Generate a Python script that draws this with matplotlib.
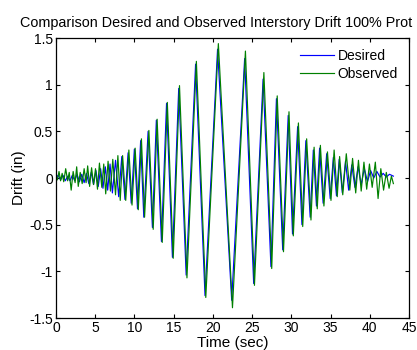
import matplotlib
matplotlib.use("Agg")
import matplotlib.pyplot as plt
from matplotlib.ticker import FixedLocator, FixedFormatter

plt.rcParams['font.family'] = ['Liberation Sans', 'DejaVu Sans']

# Desired drift: extrema (time in sec, drift in in)
desired_t = [0.0, 0.3, 0.6, 0.9, 1.2, 1.5, 1.8, 2.1, 2.4, 2.7, 3.0, 3.3, 3.6, 3.9,
             4.2, 4.5, 4.8, 5.1, 5.4, 5.7, 6.0, 6.3, 6.6, 6.9, 7.2, 7.6, 8.0, 8.4,
             8.8, 9.2, 9.6, 10.0, 10.4, 10.8, 11.2, 11.75, 12.3, 12.8, 13.45, 14.1,
             14.85, 15.65, 16.6, 17.8, 19.0, 20.6, 22.4, 24.05, 25.2, 26.4, 27.4,
             28.1, 28.9, 29.6, 30.15, 30.8, 31.35, 31.85, 32.4, 32.8, 33.2, 33.6,
             34.05, 34.5, 34.95, 35.35, 35.75, 36.1, 36.5, 36.9, 37.3, 37.7, 38.1,
             38.5, 38.9, 39.3, 39.7, 40.1, 40.5, 40.9, 41.3, 41.7, 42.1, 42.5, 43.0]
desired_v = [0.0, 0.03, -0.02, 0.03, -0.03, 0.02, -0.03, 0.03, -0.03, 0.04, -0.04,
             0.04, -0.05, 0.05, -0.06, 0.06, -0.07, 0.08, -0.09, 0.10, -0.11, 0.12,
             -0.13, 0.15, -0.16, 0.19, -0.20, 0.23, -0.23, 0.27, -0.27, 0.31, -0.33,
             0.40, -0.42, 0.50, -0.53, 0.62, -0.68, 0.80, -0.85, 0.96, -1.04, 1.22,
             -1.26, 1.38, -1.31, 1.28, -1.13, 1.06, -0.95, 0.85, -0.77, 0.67, -0.60,
             0.55, -0.50, 0.40, -0.42, 0.30, -0.30, 0.32, -0.27, 0.26, -0.22, 0.22,
             -0.19, 0.20, -0.16, 0.18, -0.13, 0.14, -0.10, 0.12, -0.07, 0.10, -0.04,
             0.08, 0.0, 0.07, 0.01, 0.05, 0.01, 0.04, 0.02]

# Observed drift: extrema
observed_t = [0.0, 0.2, 0.4, 0.6, 0.8, 1.0, 1.25, 1.5, 1.7, 1.95, 2.2, 2.45, 2.65,
              2.85, 3.1, 3.35, 3.6, 3.85, 4.05, 4.3, 4.55, 4.8, 5.05, 5.3, 5.55,
              5.85, 6.1, 6.35, 6.65, 6.95, 7.25, 7.6, 7.9, 8.2, 8.5, 8.9, 9.3, 9.7,
              10.1, 10.5, 10.9, 11.3, 11.85, 12.4, 12.9, 13.55, 14.2, 14.95, 15.75,
              16.7, 17.9, 19.1, 20.7, 22.5, 24.15, 25.3, 26.5, 27.5, 28.2, 29.0,
              29.7, 30.25, 30.9, 31.45, 31.95, 32.5, 32.9, 33.3, 33.7, 34.15, 34.6,
              35.05, 35.45, 35.85, 36.15, 36.55, 37.0, 37.45, 37.8, 38.2, 38.55,
              38.9, 39.25, 39.6, 39.95, 40.3, 40.7, 41.05, 41.4, 41.75, 42.1, 42.45,
              42.75, 43.0]
observed_v = [0.03, -0.02, 0.07, -0.03, 0.05, -0.04, 0.10, -0.03, 0.06, -0.13, 0.07,
              -0.05, 0.12, -0.09, 0.06, -0.06, 0.10, -0.05, 0.13, -0.09, 0.11, -0.07,
              0.10, -0.12, 0.16, -0.10, 0.15, -0.17, 0.18, -0.14, 0.20, -0.18, 0.24,
              -0.24, 0.24, -0.24, 0.30, -0.29, 0.32, -0.34, 0.42, -0.42, 0.51, -0.55,
              0.63, -0.69, 0.81, -0.86, 0.99, -1.07, 1.25, -1.28, 1.44, -1.39, 1.36,
              -1.15, 1.13, -0.97, 0.88, -0.79, 0.71, -0.62, 0.59, -0.52, 0.42, -0.45,
              0.33, -0.33, 0.35, -0.30, 0.28, -0.24, 0.30, -0.20, 0.23, -0.18, 0.26,
              -0.13, 0.21, -0.16, 0.19, -0.14, 0.17, -0.12, 0.15, -0.10, 0.17, -0.22,
              0.10, -0.13, 0.06, -0.11, 0.02, -0.06]

x_ticks = [0, 5, 10, 15, 20, 25, 30, 35, 40, 45]
y_ticks = [-1.5, -1, -0.5, 0, 0.5, 1, 1.5]
y_tick_labels = ['-1.5', '-1', '-0.5', '0', '0.5', '1', '1.5']
title_text = 'Comparison Desired and Observed Interstory Drift 100% Prot'

fig = plt.figure(figsize=(4.17, 3.5), dpi=100)
ax = fig.add_axes([0.134, 0.0914, 0.847, 0.8])

ax.plot(desired_t, desired_v, color=(0, 0, 1), lw=0.85, label='Desired')
ax.plot(observed_t, observed_v, color=(0, 0.5, 0), lw=0.85, label='Observed')

ax.set_xlim(0, 45)
ax.set_ylim(-1.5, 1.5)
ax.xaxis.set_major_locator(FixedLocator(x_ticks))
ax.yaxis.set_major_locator(FixedLocator(y_ticks))
ax.yaxis.set_major_formatter(FixedFormatter(y_tick_labels))
ax.tick_params(direction='in', top=True, right=True, length=3, width=0.8,
               labelsize=10, pad=2)
for s in ax.spines.values():
    s.set_linewidth(0.9)

ax.set_xlabel('Time (sec)', fontsize=11, labelpad=1)
ax.set_ylabel('Drift (in)', fontsize=11, labelpad=2)
fig.text(20 / 417, 1 - 23 / 350, title_text, fontsize=10.35, ha='left', va='center')

leg = ax.legend(loc='upper right', frameon=False, fontsize=10, handlelength=2.4,
                handletextpad=0.3, labelspacing=0.25, borderaxespad=0.4)

fig.savefig('out.png', dpi=100)
